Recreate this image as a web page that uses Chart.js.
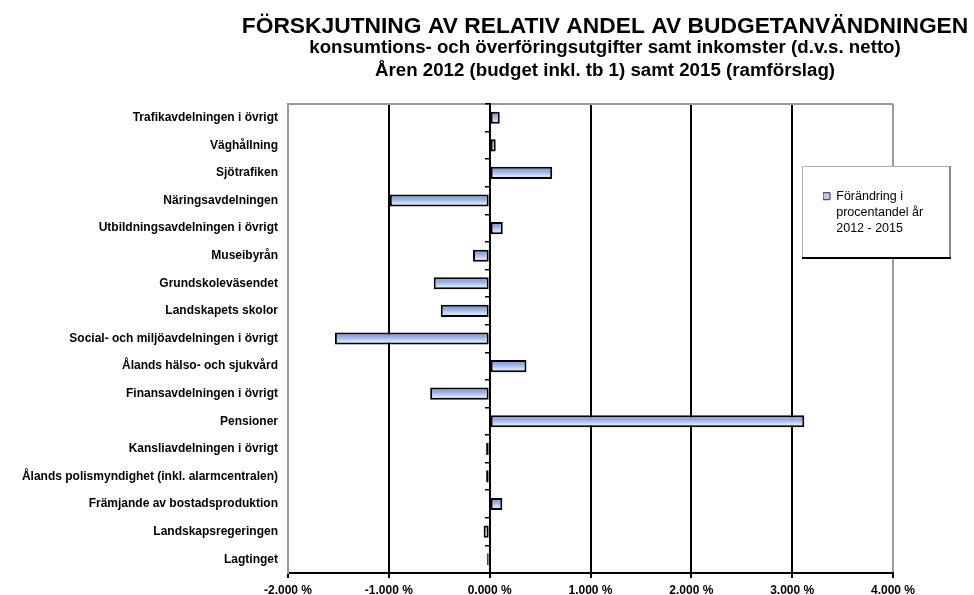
<!DOCTYPE html>
<html><head><meta charset="utf-8">
<script src="https://cdn.jsdelivr.net/npm/chart.js@4.4.0/dist/chart.umd.min.js"></script>
<style>html,body{margin:0;padding:0;background:#fff;overflow:hidden}#wrap{width:974px;height:595px;position:relative}</style>
</head><body><div id="wrap"><canvas id="c" width="974" height="595"></canvas></div>
<script>
const categories = [
  "Trafikavdelningen i övrigt",
  "Väghållning",
  "Sjötrafiken",
  "Näringsavdelningen",
  "Utbildningsavdelningen i övrigt",
  "Museibyrån",
  "Grundskoleväsendet",
  "Landskapets skolor",
  "Social- och miljöavdelningen i övrigt",
  "Ålands hälso- och sjukvård",
  "Finansavdelningen i övrigt",
  "Pensioner",
  "Kansliavdelningen i övrigt",
  "Ålands polismyndighet (inkl. alarmcentralen)",
  "Främjande av bostadsproduktion",
  "Landskapsregeringen",
  "Lagtinget"
];
const changeValues = [0.10, 0.06, 0.62, -0.99, 0.13, -0.165, -0.555, -0.485, -1.535, 0.365, -0.59, 3.12, -0.035, -0.035, 0.125, -0.06, -0.025];
const xTickValues = [-2, -1, 0, 1, 2, 3, 4];
const titleText = "FÖRSKJUTNING AV RELATIV ANDEL AV BUDGETANVÄNDNINGEN";
const subtitleLines = ["konsumtions- och överföringsutgifter samt inkomster (d.v.s. netto)", "Åren 2012 (budget inkl. tb 1) samt 2015 (ramförslag)"];
const legendLines = ["Förändring i", "procentandel år", "2012 - 2015"];

const FONT = "'Liberation Sans', Arial, Helvetica, sans-serif";
const BAR_PCT = 0.44;

function legendFrame(ca) {
  return { l: ca.right - 91, t: ca.top + 62, r: ca.right + 58, b: ca.top + 155 };
}

const layoutFix = {
  id: 'layoutFix',
  afterLayout(chart) {
    const T = chart.titleBlock && chart.titleBlock.constructor;
    chart.boxes.forEach(b => {
      if (T && b.constructor === T) { b.left = 236; b.right = 974; b.width = 738; }
    });
    const lg = chart.legend;
    if (lg) {
      const f = legendFrame(chart.chartArea);
      lg.left = f.l + 21; lg.top = f.t + 24; lg.right = f.r; lg.bottom = f.b;
      lg.width = lg.right - lg.left; lg.height = lg.bottom - lg.top;
    }
  },
  afterDatasetsDraw(chart) {
    const ctx = chart.ctx;
    const f = legendFrame(chart.chartArea);
    ctx.save();
    ctx.fillStyle = '#fff';
    ctx.fillRect(f.l, f.t, f.r - f.l, f.b - f.t);
    ctx.strokeStyle = '#b0b0b0'; ctx.lineWidth = 1;
    ctx.strokeRect(f.l + 0.5, f.t + 0.5, f.r - f.l - 1, f.b - f.t - 1);
    ctx.strokeStyle = '#8a8a8a'; ctx.lineWidth = 2;
    ctx.beginPath(); ctx.moveTo(f.r - 1, f.t); ctx.lineTo(f.r - 1, f.b); ctx.stroke();
    ctx.strokeStyle = '#000'; ctx.lineWidth = 2;
    ctx.beginPath(); ctx.moveTo(f.l, f.b - 1); ctx.lineTo(f.r, f.b - 1); ctx.stroke();
    ctx.restore();
    if (chart.legend) chart.legend.draw(chart.chartArea);
  }
};

function barFill(c) {
  const chart = c.chart;
  const y = chart.scales && chart.scales.y;
  if (!y || c.type !== 'data' || !isFinite(y.top)) return '#a9bfe9';
  const center = y.getPixelForValue(c.dataIndex);
  const h = (y.bottom - y.top) / categories.length * BAR_PCT;
  const top = center - h / 2;
  const g = chart.ctx.createLinearGradient(0, top, 0, top + h);
  g.addColorStop(0, '#7393d3');
  g.addColorStop(0.4, '#9ab2e4');
  g.addColorStop(0.75, '#d8e2f6');
  g.addColorStop(1, '#b2c6ec');
  return g;
}

new Chart(document.getElementById('c'), {
  type: 'bar',
  data: {
    labels: categories,
    datasets: [{
      label: legendLines.join(' '),
      data: changeValues,
      backgroundColor: barFill,
      borderColor: '#000',
      borderWidth: 2,
      borderSkipped: false,
      barPercentage: BAR_PCT,
      categoryPercentage: 1
    }]
  },
  options: {
    indexAxis: 'y',
    responsive: false,
    devicePixelRatio: 1,
    animation: false,
    layout: { padding: { left: 0, right: 81, top: 0, bottom: 0 } },
    plugins: {
      title: {
        display: true, text: titleText, color: '#000',
        font: { family: FONT, size: 22.8, weight: 'bold', lineHeight: 1.2 },
        padding: { top: 13, bottom: -4.4 }
      },
      subtitle: {
        display: true, text: subtitleLines, color: '#000',
        font: { family: FONT, size: 18.7, weight: 'bold', lineHeight: 1.23 },
        padding: { top: 0, bottom: 22 }
      },
      legend: {
        display: true, position: 'chartArea', align: 'start',
        labels: {
          boxWidth: 7, boxHeight: 7, padding: 0, color: '#222',
          font: { family: FONT, size: 12.5, lineHeight: 1.3 },
          generateLabels: () => [{ text: legendLines, fillStyle: '#b9cbee', strokeStyle: '#333', lineWidth: 1, hidden: false, datasetIndex: 0 }]
        }
      },
      tooltip: { enabled: false }
    },
    scales: {
      x: {
        type: 'linear', min: -2, max: 4,
        afterBuildTicks: s => { s.ticks = xTickValues.map(v => ({ value: v })); },
        ticks: {
          callback: v => Number(v).toFixed(3) + ' %',
          font: { family: FONT, size: 12, weight: 'bold' }, color: '#000',
          padding: 5, maxRotation: 0, autoSkip: false
        },
        grid: {
          color: c => (c.tick && (c.tick.value === -2 || c.tick.value === 4)) ? '#9a9a9a' : '#000',
          lineWidth: 2, tickColor: '#000', tickLength: 5, drawTicks: true
        },
        border: { color: '#000', width: 2 },
        afterFit: s => { s.height = 22; }
      },
      y: {
        type: 'category', position: 'left', offset: true,
        ticks: { font: { family: FONT, size: 12, weight: 'bold' }, color: '#000', padding: 10, autoSkip: false },
        grid: { offset: true, drawTicks: false, color: c => c.index === 0 ? '#9a9a9a' : 'rgba(0,0,0,0)', lineWidth: 2 },
        border: { color: '#9a9a9a', width: 2 },
        afterFit: s => { s.width = 288; }
      },
      y2: {
        type: 'category', labels: categories, offset: true, position: { x: 0 },
        ticks: { display: false },
        grid: { offset: true, drawOnChartArea: false, drawTicks: true, tickLength: 4, color: '#000', lineWidth: 1.5 },
        border: { color: '#000', width: 2 }
      }
    }
  },
  plugins: [layoutFix]
});
</script>
</body></html>
